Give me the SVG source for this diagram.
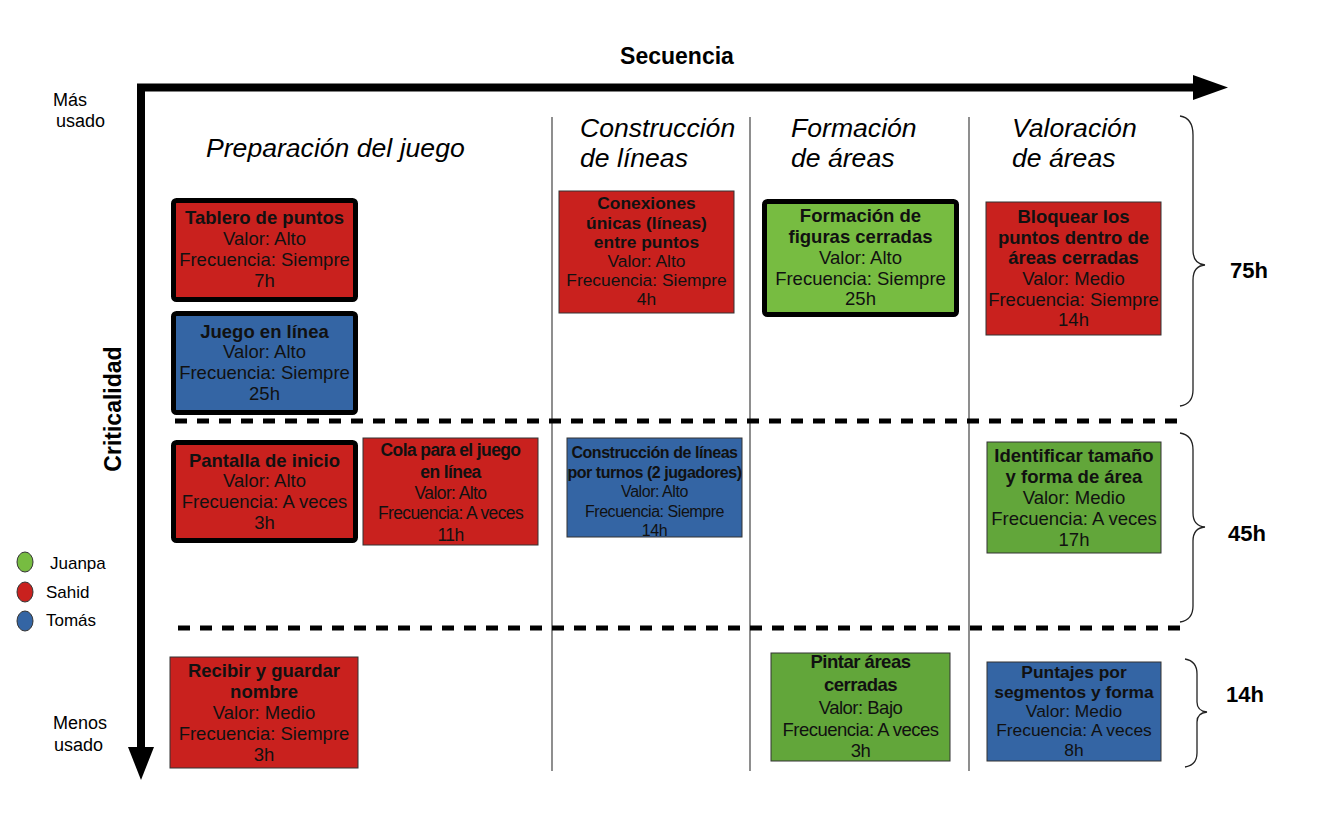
<svg xmlns="http://www.w3.org/2000/svg" width="1344" height="816" viewBox="0 0 1344 816">
<style>
text{font-family:"Liberation Sans",Arial,sans-serif;fill:#111}
.b{font-weight:bold}
.hd{font-size:26.6px;font-style:italic;fill:#000}
.ax{font-size:18px;fill:#000}
.n{font-size:18.5px;text-anchor:middle}
.n17{font-size:17.4px;text-anchor:middle}
.c{letter-spacing:-0.6px}
.red{fill:#c9211e}
.blue{fill:#3465a4}
.lg{fill:#77bc41}
.dg{fill:#62a63a}
.thick{stroke:#000;stroke-width:5}
.thin{stroke:#333;stroke-width:1}
.sep{stroke:#444;stroke-width:1.2;fill:none}
.dash{stroke:#000;stroke-width:5;stroke-dasharray:12 10;fill:none}
.brace{stroke:#222;stroke-width:1.3;fill:none}
.h{font-size:22px;font-weight:bold;fill:#000}
</style>

<g id="axes">
<line x1="137" y1="87.5" x2="1196" y2="87.5" stroke="#000" stroke-width="8"/>
<polygon points="1193,75 1228,87.5 1193,100" fill="#000"/>
<line x1="141" y1="84" x2="141" y2="749" stroke="#000" stroke-width="8"/>
<polygon points="128,747 154,747 141,780" fill="#000"/>
<text x="677" y="64" text-anchor="middle" class="b" style="font-size:23px;fill:#000">Secuencia</text>
<text x="121" y="409" text-anchor="middle" class="b" style="font-size:23px;fill:#000" transform="rotate(-90 121 409)">Criticalidad</text>
<text x="53" y="106" class="ax">Más</text>
<text x="56" y="127" class="ax">usado</text>
<text x="53" y="729" class="ax">Menos</text>
<text x="54" y="751" class="ax">usado</text>
</g>

<g id="headers">
<text x="206" y="157" class="hd">Preparación del juego</text>
<text x="580" y="137" class="hd">Construcción</text>
<text x="580" y="167" class="hd">de líneas</text>
<text x="791" y="137" class="hd">Formación</text>
<text x="791" y="167" class="hd">de áreas</text>
<text x="1012" y="137" class="hd">Valoración</text>
<text x="1012" y="167" class="hd">de áreas</text>
</g>

<g id="grid">
<line class="sep" x1="552" y1="117" x2="552" y2="771"/>
<line class="sep" x1="750" y1="117" x2="750" y2="771"/>
<line class="sep" x1="969" y1="117" x2="969" y2="771"/>
<line class="dash" x1="175" y1="421" x2="1180" y2="421"/>
<line class="dash" x1="178" y1="628" x2="1180" y2="628"/>
</g>

<g id="braces">
<path class="brace" d="M1180,116 Q1193,118 1193,135 L1193,250 Q1193,264 1205,265 Q1193,266 1193,280 L1193,390 Q1193,404 1180,406"/>
<path class="brace" d="M1180,433 Q1193,435 1193,450 L1193,513 Q1193,526 1205,527 Q1193,528 1193,541 L1193,606 Q1193,620 1180,622"/>
<path class="brace" d="M1185,659 Q1197,661 1197,674 L1197,702 Q1197,711 1207,712 Q1197,713 1197,722 L1197,753 Q1197,765 1185,767"/>
<text x="1230" y="278" class="h">75h</text>
<text x="1228" y="541" class="h">45h</text>
<text x="1226" y="702" class="h">14h</text>
</g>

<g id="legend">
<ellipse cx="25" cy="562" rx="8" ry="10" fill="#77bc41" stroke="#333" stroke-width="1"/>
<ellipse cx="25" cy="592" rx="8" ry="10" fill="#c9211e" stroke="#333" stroke-width="1"/>
<ellipse cx="25" cy="621" rx="8" ry="10" fill="#3465a4" stroke="#333" stroke-width="1"/>
<text x="50" y="569" style="font-size:17px;fill:#000">Juanpa</text>
<text x="46" y="598" style="font-size:17px;fill:#000">Sahid</text>
<text x="46" y="626" style="font-size:17px;fill:#000">Tomás</text>
</g>

<g id="tablero">
<rect x="173.5" y="200.5" width="182" height="99" rx="3" class="red thick"/>
<text class="n"><tspan x="264.5" y="224" class="b">Tablero de puntos</tspan><tspan x="264.5" y="245">Valor: Alto</tspan><tspan x="264.5" y="266">Frecuencia: Siempre</tspan><tspan x="264.5" y="287">7h</tspan></text>
</g>

<g id="juego">
<rect x="173.5" y="313.5" width="182" height="99" rx="3" class="blue thick"/>
<text class="n"><tspan x="264.5" y="338" class="b">Juego en línea</tspan><tspan x="264.5" y="358">Valor: Alto</tspan><tspan x="264.5" y="379">Frecuencia: Siempre</tspan><tspan x="264.5" y="400">25h</tspan></text>
</g>

<g id="conexiones">
<rect x="559" y="191" width="175" height="122" class="red thin"/>
<text class="n17"><tspan x="646.5" y="209" class="b">Conexiones</tspan><tspan x="646.5" y="229" class="b">únicas (líneas)</tspan><tspan x="646.5" y="248" class="b">entre puntos</tspan><tspan x="646.5" y="267">Valor: Alto</tspan><tspan x="646.5" y="286">Frecuencia: Siempre</tspan><tspan x="646.5" y="305">4h</tspan></text>
</g>

<g id="formacion">
<rect x="764.5" y="201.5" width="192" height="113" rx="3" class="lg thick"/>
<text class="n"><tspan x="860.5" y="222" class="b">Formación de</tspan><tspan x="860.5" y="243" class="b">figuras cerradas</tspan><tspan x="860.5" y="264">Valor: Alto</tspan><tspan x="860.5" y="285">Frecuencia: Siempre</tspan><tspan x="860.5" y="305">25h</tspan></text>
</g>

<g id="bloquear">
<rect x="986" y="202" width="175" height="133" class="red thin"/>
<text class="n"><tspan x="1073.5" y="223" class="b">Bloquear los</tspan><tspan x="1073.5" y="244" class="b">puntos dentro de</tspan><tspan x="1073.5" y="264" class="b">áreas cerradas</tspan><tspan x="1073.5" y="285">Valor: Medio</tspan><tspan x="1073.5" y="306">Frecuencia: Siempre</tspan><tspan x="1073.5" y="326">14h</tspan></text>
</g>

<g id="pantalla">
<rect x="173.5" y="442.5" width="182" height="98" rx="3" class="red thick"/>
<text class="n"><tspan x="264.5" y="467" class="b">Pantalla de inicio</tspan><tspan x="264.5" y="487">Valor: Alto</tspan><tspan x="264.5" y="508">Frecuencia: A veces</tspan><tspan x="264.5" y="529">3h</tspan></text>
</g>

<g id="cola">
<rect x="363" y="438" width="175" height="107" class="red thin"/>
<text class="n c" style="font-size:17.5px"><tspan x="450.5" y="456" class="b">Cola para el juego</tspan><tspan x="450.5" y="478" class="b">en línea</tspan><tspan x="450.5" y="499">Valor: Alto</tspan><tspan x="450.5" y="519">Frecuencia: A veces</tspan><tspan x="450.5" y="541">11h</tspan></text>
</g>

<g id="construccion">
<rect x="567" y="438" width="175" height="99" class="blue thin"/>
<text style="font-size:16px;text-anchor:middle;letter-spacing:-0.45px"><tspan x="654.5" y="458" class="b">Construcción de líneas</tspan><tspan x="654.5" y="478" class="b">por turnos (2 jugadores)</tspan><tspan x="654.5" y="497">Valor: Alto</tspan><tspan x="654.5" y="517">Frecuencia: Siempre</tspan><tspan x="654.5" y="536">14h</tspan></text>
</g>

<g id="identificar">
<rect x="987" y="442" width="174" height="111" class="dg thin"/>
<text class="n"><tspan x="1074" y="462" class="b">Identificar tamaño</tspan><tspan x="1074" y="483" class="b">y forma de área</tspan><tspan x="1074" y="504">Valor: Medio</tspan><tspan x="1074" y="525">Frecuencia: A veces</tspan><tspan x="1074" y="546">17h</tspan></text>
</g>

<g id="recibir">
<rect x="170" y="657" width="188" height="111" class="red thin"/>
<text class="n"><tspan x="264" y="677" class="b">Recibir y guardar</tspan><tspan x="264" y="698" class="b">nombre</tspan><tspan x="264" y="719">Valor: Medio</tspan><tspan x="264" y="740">Frecuencia: Siempre</tspan><tspan x="264" y="761">3h</tspan></text>
</g>

<g id="pintar">
<rect x="771" y="653" width="179" height="108" class="dg thin"/>
<text class="n" style="letter-spacing:-0.5px"><tspan x="860.5" y="668" class="b">Pintar áreas</tspan><tspan x="860.5" y="691" class="b">cerradas</tspan><tspan x="860.5" y="714">Valor: Bajo</tspan><tspan x="860.5" y="736">Frecuencia: A veces</tspan><tspan x="860.5" y="757">3h</tspan></text>
</g>

<g id="puntajes">
<rect x="987" y="662" width="174" height="99" class="blue thin"/>
<text class="n17"><tspan x="1074" y="677.5" class="b">Puntajes por</tspan><tspan x="1074" y="697.5" class="b">segmentos y forma</tspan><tspan x="1074" y="716.5">Valor: Medio</tspan><tspan x="1074" y="735.5">Frecuencia: A veces</tspan><tspan x="1074" y="755.5">8h</tspan></text>
</g>
</svg>
